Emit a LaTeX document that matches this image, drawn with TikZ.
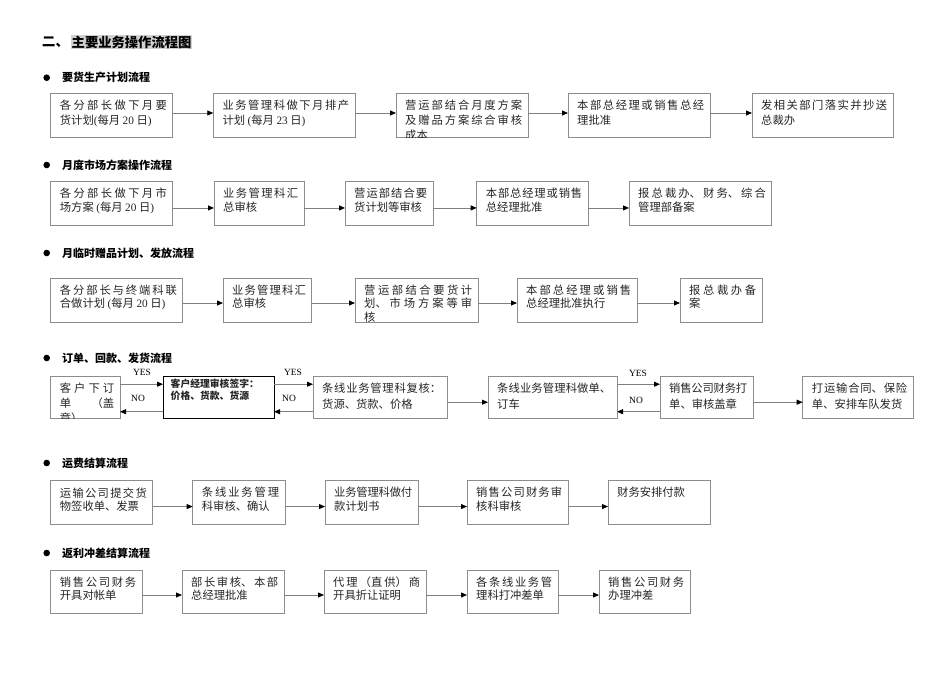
\documentclass[tikz,border=0pt]{standalone}
\usepackage{fontspec}
\setmainfont{Noto Sans CJK SC}
\newfontfamily\latf{Liberation Serif}
\usetikzlibrary{arrows.meta,calc}
\XeTeXlinebreaklocale "zh"
\XeTeXlinebreakskip=0pt plus 4pt minus 0.5pt
\newcommand\dg[1]{{\latf #1}}
\tikzset{
  boxst/.style={draw=black!45, line width=0.8pt, inner sep=0pt, outer sep=0pt},
  boldbox/.style={draw=black},
  txt/.style={inner sep=0pt, align=justify, anchor=north west, text=black!85,
    font=\fontsize{11.3}{13.5}\selectfont,
    execute at begin node={\parindent=0pt\tolerance=10000\hbadness=10000\relax}},
  arr/.style={draw=black!50, line width=0.8pt, -{Triangle[length=6pt,width=5pt,color=black]}},
  head/.style={font=\fontsize{11}{13}\selectfont\bfseries, anchor=west, inner sep=0pt},
  dot/.style={circle, fill=black, inner sep=0pt, minimum size=6.6pt},
  lab/.style={font=\latf\fontsize{9.5}{11}\selectfont, inner sep=0pt},
}
% #1 extra box style, #2 name, #3 x1, #4 y1, #5 x2, #6 y2, #7 text style extra, #8 text
\newcommand\bx[8][]{%
  \pgfmathsetmacro\bw{#5-#3}\pgfmathsetmacro\bh{#6-#4}\pgfmathsetmacro\tw{#5-#3-15}%
  \node[boxst,#1,anchor=north west,minimum width=\bw pt,minimum height=\bh pt] (#2) at (#3,#4) {};
  \begin{scope}
    \clip (#2.south west) rectangle (#2.north east);
    \node[txt,text width=\tw pt,#7] at ([xshift=9pt,yshift=-6.5pt]#2.north west) {#8};
  \end{scope}}
\begin{document}
\begin{tikzpicture}[x=1pt,y=-1pt]
\useasboundingbox[fill=white] (0,0) rectangle (950,672);

% title
\node[anchor=west, inner sep=0pt, font=\fontsize{13.3}{15}\selectfont\bfseries] (t0) at (42,42) {二、};
\node[anchor=west, inner sep=1pt, fill=black!18, font=\fontsize{13.3}{15}\selectfont\bfseries] (t1) at (70.5,42) {主要业务操作流程图};

% ---------- row 1
\node[dot] (d1) at (46.7,77.7) {};
\node[head] (h1) at (62,77.7) {要货生产计划流程};
\bx{b11}{50.7}{93.3}{172.7}{137.5}{font=\fontsize{11.3}{15}\selectfont}{各分部长做下月要\linebreak 货计划\dg{(}每月 \dg{20} 日\dg{)}}
\bx{b12}{213.3}{93.3}{355}{137.5}{font=\fontsize{11.3}{15}\selectfont}{业务管理科做下月排产\linebreak 计划 \dg{(}每月 \dg{23} 日\dg{)}}
\bx{b13}{396}{93.3}{528}{137.5}{font=\fontsize{11.3}{15}\selectfont}{营运部结合月度方案\linebreak 及赠品方案综合审核\linebreak 成本}
\bx{b14}{568}{93.3}{710}{137.5}{font=\fontsize{11.3}{15}\selectfont}{本部总经理或销售总经\linebreak 理批准}
\bx{b15}{752}{93.3}{893}{137.5}{font=\fontsize{11.3}{15}\selectfont}{发相关部门落实并抄送\linebreak 总裁办}
\foreach \a/\b in {b11/b12,b12/b13,b13/b14,b14/b15}
  \draw[arr] ([yshift=2.4pt]\a.east) -- ([yshift=2.4pt]\b.west);

% ---------- row 2
\node[dot] (d2) at (46.7,165) {};
\node[head] (h2) at (62,165) {月度市场方案操作流程};
\bx{b21}{50.7}{181.7}{172.7}{225}{}{各分部长做下月市\linebreak 场方案 \dg{(}每月 \dg{20} 日\dg{)}}
\bx{b22}{214}{181.7}{304}{225}{}{业务管理科汇\linebreak 总审核}
\bx{b23}{345}{181.7}{433}{225}{}{营运部结合要\linebreak 货计划等审核}
\bx{b24}{476.7}{181.7}{588}{225}{}{本部总经理或销售\linebreak 总经理批准}
\bx{b25}{629}{181.7}{771.7}{225}{}{报总裁办、财务、综合\linebreak 管理部备案}
\foreach \a/\b in {b21/b22,b22/b23,b23/b24,b24/b25}
  \draw[arr] ([yshift=-4.6pt]\a.east) -- ([yshift=-4.6pt]\b.west);

% ---------- row 3
\node[dot] (d3) at (46.7,253) {};
\node[head] (h3) at (62,253) {月临时赠品计划、发放流程};
\bx{b31}{50.7}{278}{182.7}{322}{}{各分部长与终端科联\linebreak 合做计划 \dg{(}每月 \dg{20} 日\dg{)}}
\bx{b32}{223}{278}{311.7}{322}{}{业务管理科汇\linebreak 总审核}
\bx{b33}{355}{278}{478}{322}{}{营运部结合要货计\linebreak 划、市场方案等审\linebreak 核}
\bx{b34}{517}{278}{637}{322}{}{本部总经理或销售\linebreak 总经理批准执行}
\bx{b35}{680}{278}{762}{322}{}{报总裁办备\linebreak 案}
\foreach \a/\b in {b31/b32,b32/b33,b33/b34,b34/b35}
  \draw[arr] ([yshift=-3pt]\a.east) -- ([yshift=-3pt]\b.west);

% ---------- row 4
\node[dot] (d4) at (46.7,358) {};
\node[head] (h4) at (62,358) {订单、回款、发货流程};
\bx{b41}{50.7}{376.5}{120}{418.5}{font=\fontsize{11.3}{15}\selectfont}{客户下订\linebreak 单（盖\linebreak 章）}
\bx[boldbox]{b42}{163}{376.5}{274}{418.5}{align=left,xshift=-1.5pt,yshift=4.5pt,font=\fontsize{9.8}{12.7}\selectfont\bfseries}{客户经理审核签字：\\价格、货款、货源}
\bx{b43}{313}{376.5}{447}{418.5}{font=\fontsize{11.3}{15.5}\selectfont}{条线业务管理科复核：\linebreak 货源、货款、价格}
\bx{b44}{488}{376.5}{617}{418.5}{font=\fontsize{11.3}{15.5}\selectfont}{条线业务管理科做单、\linebreak 订车}
\bx{b45}{660}{376.5}{753}{418.5}{font=\fontsize{11.3}{15.5}\selectfont}{销售公司财务打\linebreak 单、审核盖章}
\bx{b46}{802.7}{376.5}{913}{418.5}{font=\fontsize{11.3}{15.5}\selectfont}{打运输合同、保险\linebreak 单、安排车队发货}
\foreach \a/\b in {b41/b42,b42/b43,b44/b45}{
  \draw[arr] ([yshift=13.3pt]\a.east) -- ([yshift=13.3pt]\b.west);
  \draw[arr] ([yshift=-14.2pt]\b.west) -- ([yshift=-14.2pt]\a.east);
}
\foreach \a/\b in {b43/b44,b45/b46}
  \draw[arr] ([yshift=-4.7pt]\a.east) -- ([yshift=-4.7pt]\b.west);
\node[lab] (y1) at (142,372) {YES};
\node[lab] (n1) at (138,398.5) {NO};
\node[lab] (y2) at (293,372) {YES};
\node[lab] (n2) at (289,398.5) {NO};
\node[lab] (y3) at (638,373.5) {YES};
\node[lab] (n3) at (636,400) {NO};

% ---------- row 5
\node[dot] (d5) at (46.7,463) {};
\node[head] (h5) at (62,463) {运费结算流程};
\bx{b51}{50.7}{480.7}{152.7}{524}{}{运输公司提交货\linebreak 物签收单、发票}
\bx{b52}{192.7}{480.7}{285}{524}{}{条线业务管理\linebreak 科审核、确认}
\bx{b53}{325}{480.7}{418}{524}{}{业务管理科做付\linebreak 款计划书}
\bx{b54}{467}{480.7}{568}{524}{}{销售公司财务审\linebreak 核科审核}
\bx{b55}{608}{480.7}{710}{524}{}{财务安排付款}
\foreach \a/\b in {b51/b52,b52/b53,b53/b54,b54/b55}
  \draw[arr] ([yshift=-4.2pt]\a.east) -- ([yshift=-4.2pt]\b.west);

% ---------- row 6
\node[dot] (d6) at (46.7,553) {};
\node[head] (h6) at (62,553) {返利冲差结算流程};
\bx{b61}{50.7}{570}{142}{613}{}{销售公司财务\linebreak 开具对帐单}
\bx{b62}{182}{570}{284}{613}{}{部长审核、本部\linebreak 总经理批准}
\bx{b63}{324}{570}{426}{613}{}{代理（直供）商\linebreak 开具折让证明}
\bx{b64}{467}{570}{558}{613}{}{各条线业务管\linebreak 理科打冲差单}
\bx{b65}{599}{570}{690}{613}{}{销售公司财务\linebreak 办理冲差}
\foreach \a/\b in {b61/b62,b62/b63,b63/b64,b64/b65}
  \draw[arr] ([yshift=-3.5pt]\a.east) -- ([yshift=-3.5pt]\b.west);
\end{tikzpicture}
\end{document}
